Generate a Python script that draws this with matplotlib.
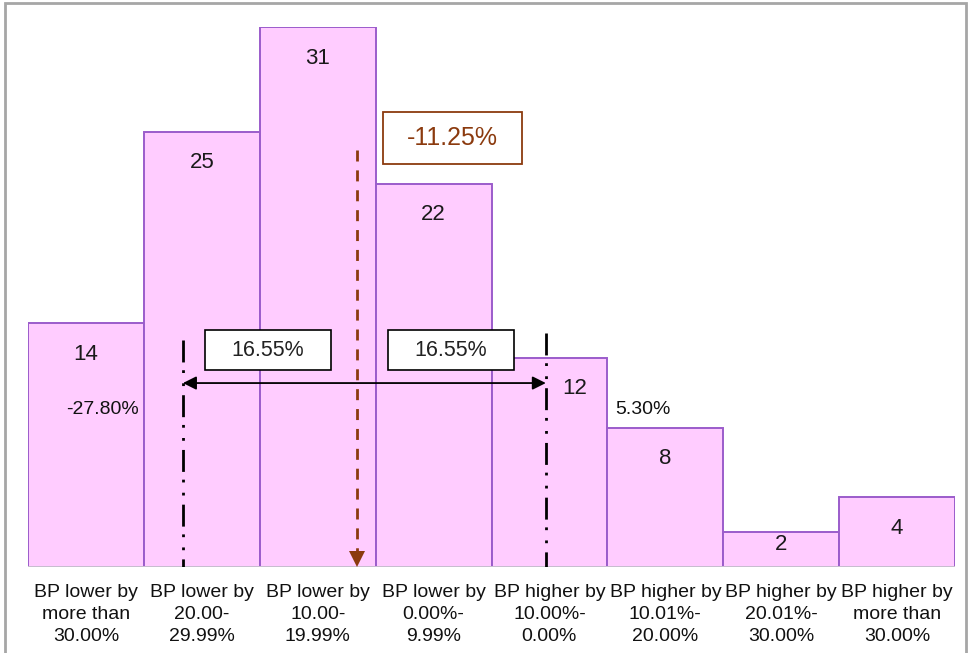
import matplotlib
matplotlib.use("Agg")
import matplotlib.pyplot as plt
from matplotlib.patches import Rectangle, FancyArrowPatch

plt.rcParams['font.family'] = ['Liberation Sans', 'DejaVu Sans']

categories = [
    "BP lower by\nmore than\n30.00%",
    "BP lower by\n20.00-\n29.99%",
    "BP lower by\n10.00-\n19.99%",
    "BP lower by\n0.00%-\n9.99%",
    "BP higher by\n10.00%-\n0.00%",
    "BP higher by\n10.01%-\n20.00%",
    "BP higher by\n20.01%-\n30.00%",
    "BP higher by\nmore than\n30.00%",
]
counts = [14, 25, 31, 22, 12, 8, 2, 4]
mean_label = "-11.25%"
spread_label = "16.55%"
low_label = "-27.80%"
high_label = "5.30%"

# layout: horizontal nudges for value labels (data units), to avoid the marker line
label_nudge = {4: 0.22}

W, H = 974, 653
fig = plt.figure(figsize=(W / 100, H / 100), dpi=100)
ax_l, ax_r, ax_b, ax_t = 28, 955, 567, 27
ax = fig.add_axes([ax_l / W, 1 - ax_b / H, (ax_r - ax_l) / W, (ax_b - ax_t) / H])

xs = list(range(len(counts)))
ax.bar(xs, counts, width=1.0, color='#FFCCFF', edgecolor='#9B5CCB', linewidth=1.4, zorder=2)
ax.set_xlim(-0.5, len(counts) - 0.5)
ax.set_ylim(0, 31)
ax.axhline(0, color='#D0D0D0', linewidth=1.2, zorder=3)

for x, v in zip(xs, counts):
    ax.text(x + label_nudge.get(x, 0), max(v - 1.78, 1.3), str(v), ha='center', va='center',
            fontsize=16, color='#1a1a1a', zorder=5)

for s in ax.spines.values():
    s.set_visible(False)
ax.set_yticks([])
ax.set_xticks(xs)
ax.set_xticklabels(categories, fontsize=14, linespacing=1.38, color='#111111')
ax.tick_params(axis='x', length=0, pad=12)

# mean marker (brown dashed arrow and box)
brown = '#8B3A0E'
mean_x = 2.34
ax.plot([mean_x, mean_x], [23.94, 0.9], color=brown, linestyle=(0, (3.96, 3.2)), linewidth=2.0, zorder=4)
ax.plot([mean_x], [0.45], marker='v', markersize=12, color=brown, markeredgewidth=0, zorder=4)
ax.add_patch(Rectangle((2.563, 23.13), 1.2, 2.99, facecolor='white', edgecolor=brown, linewidth=1.3, zorder=6))
ax.text(3.163, 24.6, mean_label, ha='center', va='center', fontsize=18, color=brown, zorder=7)

# spread lines (dash-dot-dot)
low_x, high_x = 0.837, 3.969
for x0, ytop in [(low_x, 13.03), (high_x, 13.43)]:
    ax.plot([x0, x0], [ytop, 0], color='black', linewidth=2.0,
            linestyle=(0, (7.9, 2.8, 1.0, 3.7, 1.0, 3.3)), zorder=4)

arrow = FancyArrowPatch((low_x, 10.56), (high_x, 10.56), arrowstyle='<|-|>',
                        mutation_scale=20, color='black', linewidth=1.3, zorder=5,
                        shrinkA=0, shrinkB=0)
ax.add_patch(arrow)

for bx in [1.027, 2.606]:
    ax.add_patch(Rectangle((bx, 11.31), 1.087, 2.3, facecolor='white', edgecolor='black', linewidth=1.2, zorder=6))
    ax.text(bx + 0.5435, 12.42, spread_label, ha='center', va='center', fontsize=15.5, color='#222222', zorder=7)

ax.text(0.14, 9.05, low_label, ha='center', va='center', fontsize=14, color='#111111', zorder=5)
ax.text(4.806, 9.05, high_label, ha='center', va='center', fontsize=14, color='#111111', zorder=5)

# outer border
fig.patches.append(Rectangle((5 / W, -0.05), (966 - 5) / W, 1 - 3 / H + 0.05,
                             transform=fig.transFigure, facecolor='none',
                             edgecolor='#A6A6A6', linewidth=2, zorder=0))

fig.savefig('out.png', dpi=100)
